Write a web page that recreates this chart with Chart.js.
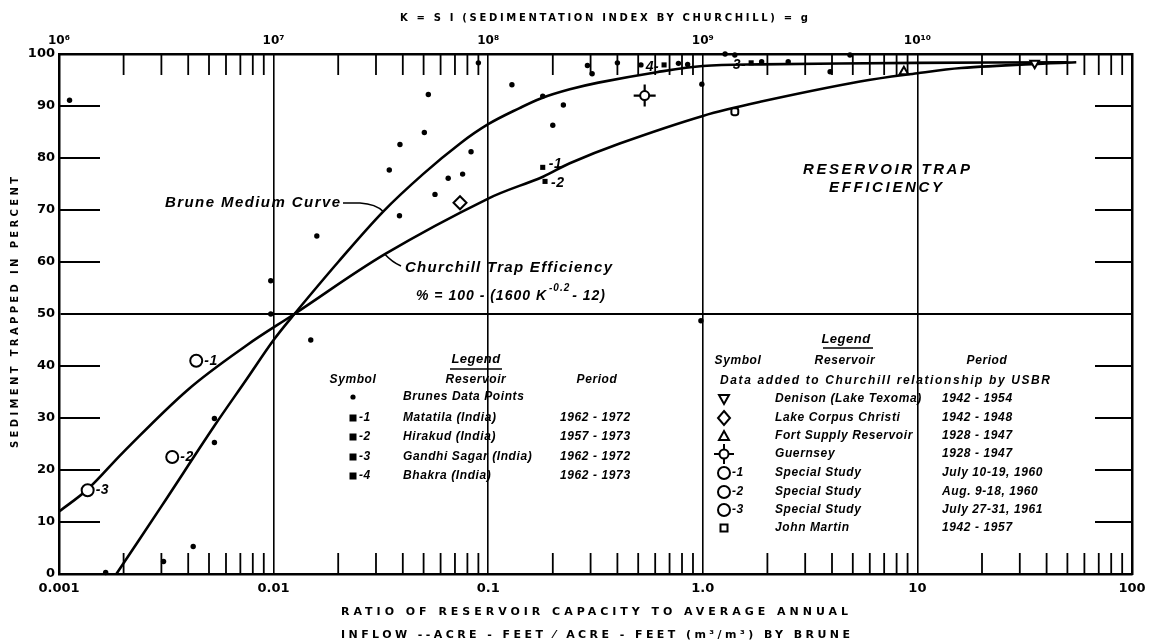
<!DOCTYPE html>
<html>
<head>
<meta charset="utf-8">
<script src="https://cdn.jsdelivr.net/npm/chart.js@4/dist/chart.umd.min.js"></script>
<style>
  html, body { margin: 0; padding: 0; background: #fff; }
  canvas { display: block; }
</style>
</head>
<body>
<canvas id="trap" width="1154" height="644"></canvas>
<script>
// axis ticks
const bottomDecades = [0.001, 0.01, 0.1, 1, 10, 100];
const bottomLabels = ['0.001', '0.01', '0.1', '1.0', '10', '100'];
const topDecades = [1e6, 1e7, 1e8, 1e9, 1e10];
const topLabels = ['10⁶', '10⁷', '10⁸', '10⁹', '10¹⁰'];
const yStep = 10;

// curves
const bruneCurveX = [0.00185, 0.003, 0.0053, 0.0075, 0.01, 0.0125, 0.02, 0.0324, 0.05, 0.074, 0.1, 0.14, 0.177, 0.24, 0.326, 0.61, 1, 1.85, 10, 50];
const bruneCurveY = [0, 13, 28.5, 37.5, 45, 50, 60, 69.7, 77, 82.8, 86.5, 89.6, 91.5, 93.2, 94.5, 96.5, 97.7, 98.0, 98.3, 98.4];
const churchillX = [0.001, 0.00136, 0.002, 0.004, 0.0075, 0.0125, 0.033, 0.1, 0.18, 0.24, 0.41, 1, 1.85, 5.4, 10, 16, 40, 55];
const churchillY = [12, 16.3, 23.5, 35.5, 44, 50, 61.5, 72.2, 76.4, 79, 82.8, 88.1, 90.8, 94.7, 96.3, 97.3, 98.2, 98.4];

// Brune's data points
const bruneDataX = [0.00112, 0.00165, 0.00307, 0.00422, 0.0053, 0.0053, 0.0097, 0.0097, 0.0149, 0.0159,
  0.0346, 0.0386, 0.0388, 0.0504, 0.0526, 0.0565, 0.0651, 0.076, 0.0832, 0.09,
  0.129, 0.1795, 0.2, 0.224, 0.29, 0.305, 0.40, 0.515, 0.77, 0.85,
  0.99, 0.98, 1.27, 1.41, 1.88, 2.5, 3.92, 4.85];
const bruneDataY = [91.1, 0.3, 2.4, 5.3, 25.3, 29.9, 56.4, 50, 45.0, 65.0,
  77.7, 68.9, 82.6, 84.9, 92.2, 73.0, 76.1, 76.9, 81.2, 98.3,
  94.1, 91.9, 86.3, 90.2, 97.8, 96.2, 98.3, 97.9, 98.2, 98.0,
  94.2, 48.7, 100, 99.8, 98.5, 98.5, 96.6, 99.8];

// Indian reservoirs (squares 1-4)
const indiaX = [0.1795, 0.184, 1.68, 0.66];
const indiaY = [78.2, 75.5, 98.3, 97.9];
const indiaIds = ['1', '2', '3', '4'];

// USBR additions
const denisonX = [35.2], denisonY = [98.2];
const corpusX = [0.0739], corpusY = [71.4];
const fortSupplyX = [8.65], fortSupplyY = [96.6];
const guernseyX = [0.536], guernseyY = [92.0];
const specialX = [0.00436, 0.00337, 0.00136];
const specialY = [41, 22.5, 16.1];
const specialIds = ['1', '2', '3'];
const johnMartinX = [1.41], johnMartinY = [88.9];

// legend tables
const brunesLegend = [
  ['dot', '', 'Brunes Data Points', ''],
  ['square', '-1', 'Matatila (India)', '1962 - 1972'],
  ['square', '-2', 'Hirakud (India)', '1957 - 1973'],
  ['square', '-3', 'Gandhi Sagar (India)', '1962 - 1972'],
  ['square', '-4', 'Bhakra (India)', '1962 - 1973']
];
const usbrLegend = [
  ['down', '', 'Denison (Lake Texoma)', '1942 - 1954'],
  ['diamond', '', 'Lake Corpus Christi', '1942 - 1948'],
  ['up', '', 'Fort Supply Reservoir', '1928 - 1947'],
  ['guernsey', '', 'Guernsey', '1928 - 1947'],
  ['ring', '-1', 'Special Study', 'July 10-19, 1960'],
  ['ring', '-2', 'Special Study', 'Aug. 9-18, 1960'],
  ['ring', '-3', 'Special Study', 'July 27-31, 1961'],
  ['box', '', 'John Martin', '1942 - 1957']
];

const pts = (xs, ys) => xs.map((x, i) => ({ x: x, y: ys[i] }));
const lg = v => Math.log10(v);
const isDecade = v => Math.abs(lg(v) - Math.round(lg(v))) < 1e-6;
const wholeMantissa = v => {
  const m = v / Math.pow(10, Math.floor(lg(v) + 1e-9));
  return Math.abs(m - Math.round(m)) < 1e-6;
};
const pickLabel = (decades, labels) => v => {
  const i = decades.findIndex(d => Math.abs(d - v) / d < 1e-6);
  return i >= 0 ? labels[i] : '';
};

const BOLD = '"DejaVu Sans"';
const ITAL = '"Liberation Sans"';

const seg = (ctx, x1, y1, x2, y2) => { ctx.beginPath(); ctx.moveTo(x1, y1); ctx.lineTo(x2, y2); ctx.stroke(); };

const text = (ctx, s, x, y, font, align, spacing) => {
  ctx.font = font;
  ctx.letterSpacing = (spacing || 0) + 'px';
  ctx.textAlign = align || 'left';
  ctx.textBaseline = 'middle';
  ctx.fillText(s, x, y);
};

// stretch a string between two x positions
const fitText = (ctx, s, x1, x2, y, font) => {
  ctx.font = font;
  ctx.letterSpacing = '0px';
  const w = ctx.measureText(s).width;
  const sp = (x2 - x1 - w) / Math.max(1, s.length - 1);
  text(ctx, s, x1, y, font, 'left', sp);
};

const drawSym = (ctx, kind, x, y) => {
  ctx.save();
  ctx.lineWidth = 2;
  ctx.fillStyle = '#fff';
  ctx.beginPath();
  if (kind === 'dot') {
    ctx.fillStyle = '#000';
    ctx.arc(x, y, 2.6, 0, Math.PI * 2); ctx.fill();
  } else if (kind === 'square') {
    ctx.fillStyle = '#000';
    ctx.fillRect(x - 3.5, y - 3.5, 7, 7);
  } else if (kind === 'down') {
    ctx.moveTo(x - 5, y - 4); ctx.lineTo(x + 5, y - 4); ctx.lineTo(x, y + 5); ctx.closePath();
    ctx.fill(); ctx.stroke();
  } else if (kind === 'up') {
    ctx.moveTo(x - 5, y + 4); ctx.lineTo(x + 5, y + 4); ctx.lineTo(x, y - 5); ctx.closePath();
    ctx.fill(); ctx.stroke();
  } else if (kind === 'diamond') {
    ctx.moveTo(x, y - 7); ctx.lineTo(x + 6, y); ctx.lineTo(x, y + 7); ctx.lineTo(x - 6, y); ctx.closePath();
    ctx.fill(); ctx.stroke();
  } else if (kind === 'guernsey') {
    seg(ctx, x, y - 10, x, y + 10); seg(ctx, x - 10, y, x + 10, y);
    ctx.beginPath(); ctx.arc(x, y, 4.5, 0, Math.PI * 2); ctx.fill(); ctx.stroke();
  } else if (kind === 'ring') {
    ctx.arc(x, y, 6, 0, Math.PI * 2); ctx.fill(); ctx.stroke();
  } else if (kind === 'box') {
    ctx.rect(x - 3.5, y - 3.5, 7, 7); ctx.fill(); ctx.stroke();
  }
  ctx.restore();
};

const trapDecor = {
  id: 'trapDecor',
  beforeDatasetsDraw(chart) {
    const { ctx, chartArea: a } = chart;
    const xs = chart.scales.x, ys = chart.scales.y;
    ctx.save();
    ctx.strokeStyle = '#000';
    ctx.lineWidth = 1.8;
    xs.ticks.forEach(t => {
      if (isDecade(t.value) || !wholeMantissa(t.value)) return;
      const px = xs.getPixelForValue(t.value);
      seg(ctx, px, a.bottom, px, a.bottom - 21);
      seg(ctx, px, a.top, px, a.top + 21);
    });
    ctx.lineWidth = 2;
    ys.ticks.forEach(t => {
      if (t.value % 50 === 0) return;
      const py = ys.getPixelForValue(t.value);
      seg(ctx, a.left, py, a.left + 41, py);
      seg(ctx, a.right - 37, py, a.right, py);
    });
    ctx.restore();
  },
  afterDraw(chart) {
    const { ctx } = chart;
    const xs = chart.scales.x, ys = chart.scales.y;
    const X = v => xs.getPixelForValue(v), Y = v => ys.getPixelForValue(v);
    ctx.save();
    ctx.fillStyle = '#000';
    ctx.strokeStyle = '#000';

    // titles
    fitText(ctx, 'K = S I (SEDIMENTATION INDEX BY CHURCHILL) = g', 400, 808, 18, 'bold 10px ' + BOLD);
    fitText(ctx, 'RATIO OF RESERVOIR CAPACITY TO AVERAGE ANNUAL', 341, 848, 612, 'bold 11px ' + BOLD);
    fitText(ctx, 'INFLOW --ACRE - FEET ⁄ ACRE - FEET (m³/m³) BY BRUNE', 341, 850, 635, 'bold 11px ' + BOLD);
    ctx.save();
    ctx.translate(15, 448);
    ctx.rotate(-Math.PI / 2);
    fitText(ctx, 'SEDIMENT TRAPPED IN PERCENT', 0, 271, 0, 'bold 10px ' + BOLD);
    ctx.restore();

    // curve annotations
    const it15 = 'italic bold 15px ' + ITAL;
    fitText(ctx, 'RESERVOIR TRAP', 803, 970, 170, it15);
    fitText(ctx, 'EFFICIENCY', 829, 942, 188, it15);
    fitText(ctx, 'Brune Medium Curve', 165, 340, 203, it15);
    ctx.lineWidth = 1.6;
    ctx.beginPath();
    ctx.moveTo(343, 203);
    ctx.lineTo(360, 203);
    ctx.quadraticCurveTo(376, 204, X(0.0324), Y(69.7));
    ctx.stroke();
    fitText(ctx, 'Churchill Trap Efficiency', 405, 612, 268, it15);
    ctx.beginPath();
    ctx.moveTo(X(0.033), Y(61.5));
    ctx.quadraticCurveTo(392, 262, 401, 266);
    ctx.stroke();
    // formula with superscript exponent
    const f14 = 'italic bold 14px ' + ITAL;
    text(ctx, '% = 100 - (1600 K', 416, 296, f14, 'left', 1);
    ctx.letterSpacing = '1px';
    let fx = 416 + ctx.measureText('% = 100 - (1600 K').width + 2;
    text(ctx, '-0.2', fx, 288, 'italic bold 10px ' + ITAL, 'left', 1);
    ctx.font = 'italic bold 10px ' + ITAL;
    fx += ctx.measureText('-0.2').width + 2;
    text(ctx, '- 12)', fx, 296, f14, 'left', 1);

    // point labels
    const lab = 'italic bold 14px ' + ITAL;
    specialX.forEach((v, i) => text(ctx, '-' + specialIds[i], X(v) + 8, Y(specialY[i]), lab, 'left', 0.5));
    indiaX.forEach((v, i) => {
      const px = X(v), py = Y(indiaY[i]);
      if (i === 0) text(ctx, '-' + indiaIds[i], px + 6, py - 3, lab, 'left', 0.5);
      else if (i === 1) text(ctx, '-' + indiaIds[i], px + 6, py + 2, lab, 'left', 0.5);
      else text(ctx, indiaIds[i] + '-', px - 5, py + 2, lab, 'right', 0.5);
    });

    // Brune legend
    const it13 = 'italic bold 13px ' + ITAL;
    const it12 = 'italic bold 12px ' + ITAL;
    text(ctx, 'Legend', 476, 359, it13, 'center', 0.5);
    ctx.lineWidth = 1.6;
    seg(ctx, 450, 369, 502, 369);
    text(ctx, 'Symbol', 353, 380, it12, 'center', 0.6);
    text(ctx, 'Reservoir', 476, 380, it12, 'center', 0.6);
    text(ctx, 'Period', 597, 380, it12, 'center', 0.6);
    const leftRows = [397, 418, 437, 457, 476];
    brunesLegend.forEach((r, i) => {
      drawSym(ctx, r[0], 353, leftRows[i]);
      if (r[1]) text(ctx, r[1], 359, leftRows[i], it12, 'left', 0.6);
      text(ctx, r[2], 403, leftRows[i], it12, 'left', 0.6);
      if (r[3]) text(ctx, r[3], 560, leftRows[i], it12, 'left', 0.6);
    });

    // USBR legend
    text(ctx, 'Legend', 846, 339, it13, 'center', 0.5);
    seg(ctx, 823, 348, 873, 348);
    text(ctx, 'Symbol', 738, 361, it12, 'center', 0.6);
    text(ctx, 'Reservoir', 845, 361, it12, 'center', 0.6);
    text(ctx, 'Period', 987, 361, it12, 'center', 0.6);
    fitText(ctx, 'Data added to Churchill relationship by USBR', 720, 1050, 381, it12);
    const rightRows = [399, 418, 436, 454, 473, 492, 510, 528];
    usbrLegend.forEach((r, i) => {
      drawSym(ctx, r[0], 724, rightRows[i]);
      if (r[1]) text(ctx, r[1], 732, rightRows[i], it12, 'left', 0.6);
      text(ctx, r[2], 775, rightRows[i], it12, 'left', 0.6);
      text(ctx, r[3], 942, rightRows[i], it12, 'left', 0.6);
    });
    ctx.restore();
  }
};

const tickFont = { family: 'DejaVu Sans', weight: 'bold', size: 13 };
const borderOpt = { display: true, color: '#000', width: 2.5 };
const hidden = 'rgba(0,0,0,0)';

new Chart(document.getElementById('trap'), {
  type: 'scatter',
  data: {
    datasets: [
      { label: 'Guernsey ring', data: pts(guernseyX, guernseyY), pointStyle: 'circle', pointRadius: 4.5,
        pointBackgroundColor: '#fff', pointBorderColor: '#000', pointBorderWidth: 2, clip: false, order: 0 },
      { label: 'Guernsey', data: pts(guernseyX, guernseyY), pointStyle: 'cross', pointRadius: 11,
        pointBorderColor: '#000', pointBorderWidth: 2.2, clip: false, order: 0 },
      { label: 'Special Study', data: pts(specialX, specialY), pointStyle: 'circle', pointRadius: 6,
        pointBackgroundColor: '#fff', pointBorderColor: '#000', pointBorderWidth: 2, clip: false, order: 0 },
      { label: 'Lake Corpus Christi', data: pts(corpusX, corpusY), pointStyle: 'rectRot', pointRadius: 6.5,
        pointBackgroundColor: '#fff', pointBorderColor: '#000', pointBorderWidth: 2, clip: false, order: 0 },
      { label: 'Denison', data: pts(denisonX, denisonY), pointStyle: 'triangle', pointRotation: 180, pointRadius: 5,
        pointBackgroundColor: '#fff', pointBorderColor: '#000', pointBorderWidth: 2, clip: false, order: 0 },
      { label: 'Fort Supply Reservoir', data: pts(fortSupplyX, fortSupplyY), pointStyle: 'triangle', pointRadius: 5,
        pointBackgroundColor: '#fff', pointBorderColor: '#000', pointBorderWidth: 2, clip: false, order: 0 },
      { label: 'John Martin', data: pts(johnMartinX, johnMartinY), pointStyle: 'rectRounded', pointRadius: 4,
        pointBackgroundColor: '#fff', pointBorderColor: '#000', pointBorderWidth: 2, clip: false, order: 0 },
      { label: 'India', data: pts(indiaX, indiaY), pointStyle: 'rect', pointRadius: 3.6,
        pointBackgroundColor: '#000', pointBorderColor: '#000', pointBorderWidth: 0, clip: false, order: 0 },
      { label: 'Brunes Data Points', data: pts(bruneDataX, bruneDataY), pointStyle: 'circle', pointRadius: 2.7,
        pointBackgroundColor: '#000', pointBorderColor: '#000', pointBorderWidth: 0, clip: false, order: 0 },
      { label: 'Brune Medium Curve', data: pts(bruneCurveX, bruneCurveY), showLine: true, pointRadius: 0,
        borderColor: '#000', borderWidth: 2.6, tension: 0.35, fill: false, order: 10 },
      { label: 'Churchill Trap Efficiency', data: pts(churchillX, churchillY), showLine: true, pointRadius: 0,
        borderColor: '#000', borderWidth: 2.6, tension: 0.35, fill: false, order: 10 }
    ]
  },
  options: {
    responsive: false,
    animation: false,
    devicePixelRatio: 1,
    layout: { padding: 0 },
    plugins: { legend: { display: false }, tooltip: { enabled: false } },
    scales: {
      x: {
        type: 'logarithmic', position: 'bottom', min: 0.001, max: 100,
        afterFit: s => { s.height = 70; },
        ticks: { autoSkip: false, maxRotation: 0, padding: 7, color: '#000', font: tickFont,
          callback: pickLabel(bottomDecades, bottomLabels) },
        grid: { color: c => (c.tick && isDecade(c.tick.value)) ? '#000' : hidden, lineWidth: 1.6, drawTicks: false },
        border: borderOpt
      },
      x2: {
        type: 'logarithmic', position: 'top', min: 1e6, max: 1e11,
        afterFit: s => { s.height = 54; },
        ticks: { autoSkip: false, maxRotation: 0, padding: 6, color: '#000',
          font: { family: 'DejaVu Sans', weight: 'bold', size: 12 },
          callback: pickLabel(topDecades, topLabels) },
        grid: { display: false, drawTicks: false },
        border: borderOpt
      },
      y: {
        min: 0, max: 100,
        afterFit: s => { s.width = 59; },
        ticks: { stepSize: yStep, padding: 4, color: '#000', font: tickFont },
        grid: { color: c => (c.tick && c.tick.value === 50) ? '#000' : hidden, lineWidth: 2, drawTicks: false },
        border: borderOpt
      },
      y2: {
        position: 'right', min: 0, max: 100,
        afterFit: s => { s.width = 22; },
        ticks: { display: false },
        grid: { display: false, drawTicks: false },
        border: borderOpt
      }
    }
  },
  plugins: [trapDecor]
});
</script>
</body>
</html>
